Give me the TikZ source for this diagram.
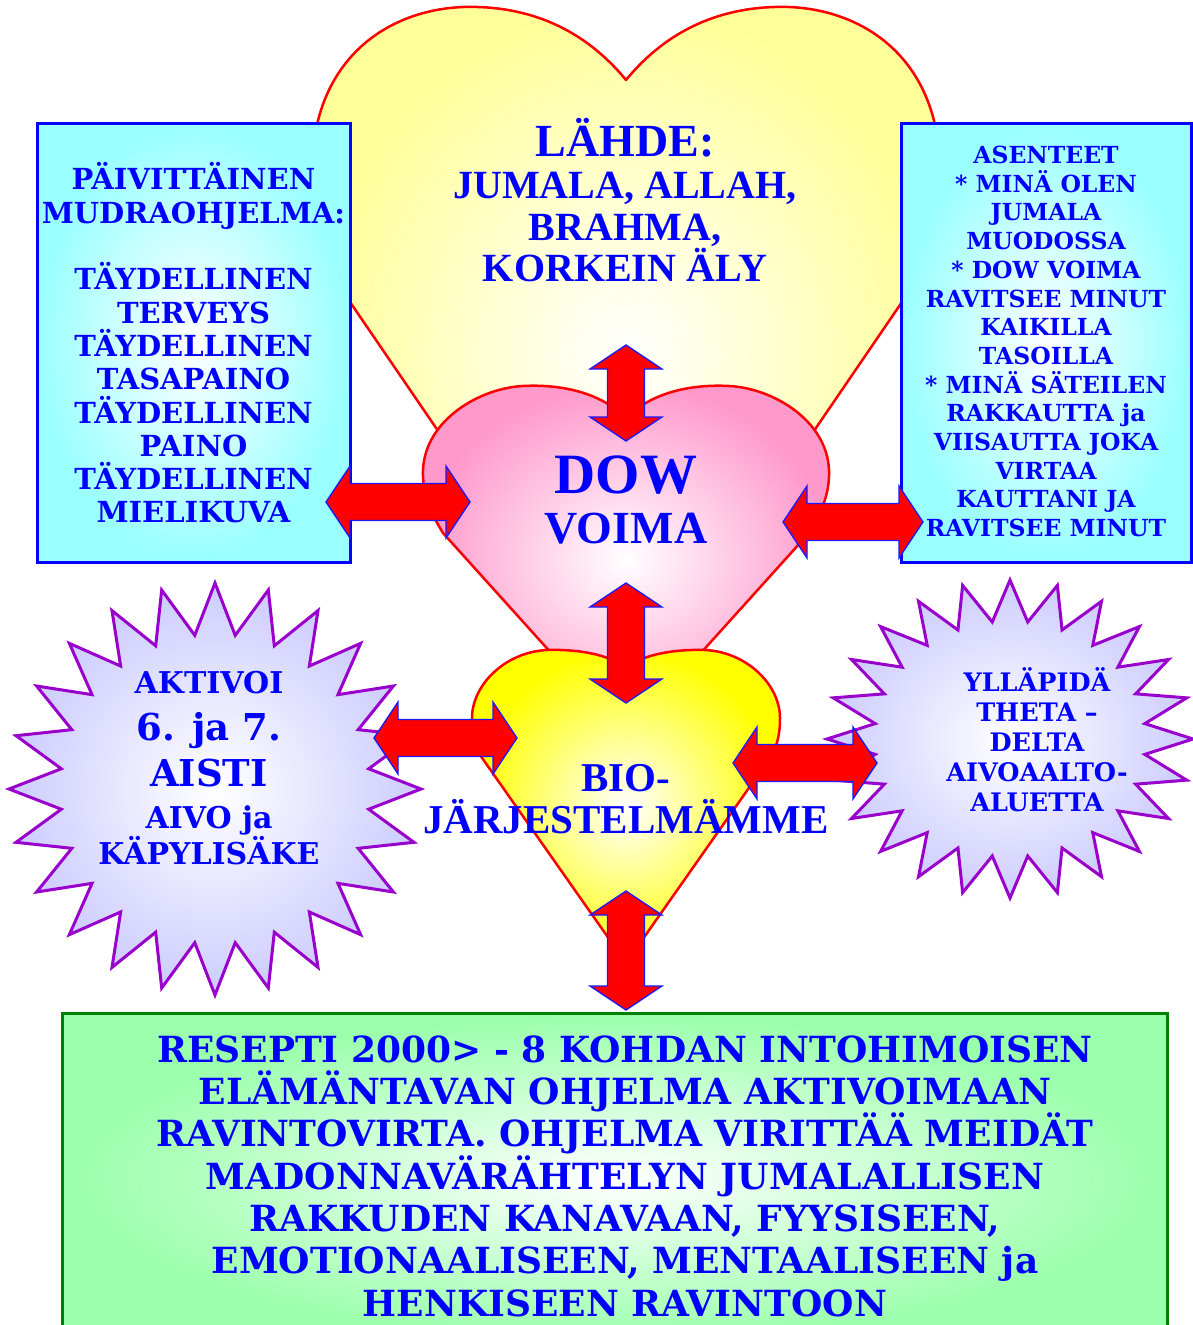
\documentclass[tikz,border=0pt]{standalone}
\usepackage{fontspec}
\setmainfont{Liberation Serif}
\newfontfamily\geofont{DejaVu Serif}
\usetikzlibrary{calc}
\definecolor{TextBlue}{HTML}{0000FF}
\definecolor{HeartRed}{HTML}{FF0000}
\definecolor{ArrowRed}{HTML}{FF0000}
\definecolor{ArrowBlue}{HTML}{1A1AFF}
\definecolor{BoxBlue}{HTML}{0000FF}
\definecolor{BoxCyan}{HTML}{99FFFF}
\definecolor{TopYellow}{HTML}{FFFF99}
\definecolor{DowPink}{HTML}{FF99CC}
\definecolor{BioYellow}{HTML}{FFFF00}
\definecolor{StarLilac}{HTML}{CCCCFF}
\definecolor{StarPurple}{HTML}{9900CC}
\definecolor{ReseptiGreen}{HTML}{99FFAA}
\definecolor{ReseptiLine}{HTML}{008000}
\tikzset{
  heartline/.style={draw=HeartRed,line width=2.5pt,line join=round},
  cyanbox/.style={draw=BoxBlue,line width=3pt,inner color=white,outer color=BoxCyan,inner sep=0pt},
  greenbox/.style={draw=ReseptiLine,line width=3pt,inner color=white,outer color=ReseptiGreen,inner sep=0pt},
  starline/.style={draw=StarPurple,line width=3pt,line join=miter,inner color=white,outer color=StarLilac},
  heartlabel/.style 2 args={text=TextBlue,align=center,inner sep=0pt,font=\bfseries\fontsize{#1pt}{#2pt}\selectfont},
  geolabel/.style 2 args={text=TextBlue,align=center,inner sep=0pt,font=\geofont\bfseries\fontsize{#1pt}{#2pt}\selectfont},
  fatarrow/.style={draw=ArrowBlue,line width=1.3pt,fill=ArrowRed,line join=miter,
    to path={let \p1=(\tikztostart), \p2=(\tikztotarget),
      \n1={atan2(\y2-\y1,\x2-\x1)}, \n2={veclen(\x2-\x1,\y2-\y1)}, \n3={\n2-24pt} in
      ([shift={(\p1)},rotate=\n1]0pt,0pt)
      -- ([shift={(\p1)},rotate=\n1]24pt,36pt)
      -- ([shift={(\p1)},rotate=\n1]24pt,18.5pt)
      -- ([shift={(\p1)},rotate=\n1]\n3,18.5pt)
      -- ([shift={(\p1)},rotate=\n1]\n3,36pt)
      -- ([shift={(\p1)},rotate=\n1]\n2,0pt)
      -- ([shift={(\p1)},rotate=\n1]\n3,-36pt)
      -- ([shift={(\p1)},rotate=\n1]\n3,-18.5pt)
      -- ([shift={(\p1)},rotate=\n1]24pt,-18.5pt)
      -- ([shift={(\p1)},rotate=\n1]24pt,-36pt)
      -- cycle}}
}

\begin{document}
\begin{tikzpicture}[x=1pt,y=-1pt]
  \clip (0,0) rectangle (1193,1325);
  \fill[white] (0,0) rectangle (1193,1325);

  % lahde heart
  \draw[heartline,inner color=white,outer color=TopYellow]
    (626,80) .. controls (585,30) and (530,5) .. (463,7)
    .. controls (390,10) and (322,55) .. (313,150)
    .. controls (308,220) and (330,270) .. (350,302) -- (626,706) -- (902,302)
    .. controls (922,270) and (944,220) .. (939,150)
    .. controls (930,55) and (862,10) .. (789,7)
    .. controls (722,5) and (667,30) .. (626,80) -- cycle;
  \node[heartlabel={46}{46}] (lahde) at (625,138) {LÄHDE:};
  \node[heartlabel={40}{41.5}] (jumala) at (625,227) {JUMALA, ALLAH,\\BRAHMA,\\KORKEIN ÄLY};

  % side boxes
  \node[cyanbox,minimum width=313pt,minimum height=439pt] (mudrabox) at (193.5,342.5) {};
  \node[geolabel={29}{33.3}] (mudra) at (193.5,343) {PÄIVITTÄINEN\\MUDRAOHJELMA:\\[33.3pt]TÄYDELLINEN\\TERVEYS\\TÄYDELLINEN\\TASAPAINO\\TÄYDELLINEN\\PAINO\\TÄYDELLINEN\\MIELIKUVA};
  \node[cyanbox,minimum width=290pt,minimum height=439pt] (asennebox) at (1046,342.5) {};
  \node[geolabel={23.5}{28.7}] (asenne) at (1046,341.5) {ASENTEET\\* MINÄ OLEN\\JUMALA\\MUODOSSA\\* DOW VOIMA\\RAVITSEE MINUT\\KAIKILLA\\TASOILLA\\* MINÄ SÄTEILEN\\RAKKAUTTA ja\\VIISAUTTA JOKA\\VIRTAA\\KAUTTANI JA\\RAVITSEE MINUT};

  % dow heart
  \draw[heartline,inner color=white,outer color=DowPink]
    (626,418) .. controls (600,392) and (560,384) .. (523,386)
    .. controls (480,388) and (425,420) .. (423,470)
    .. controls (422,495) and (432,515) .. (443,533) -- (626,736) -- (809,533)
    .. controls (820,515) and (830,495) .. (829,470)
    .. controls (827,420) and (772,388) .. (729,386)
    .. controls (692,384) and (652,392) .. (626,418) -- cycle;
  \node[heartlabel={57}{57}] (dow) at (626,475) {DOW};
  \node[heartlabel={46}{46}] (voima) at (626,529) {VOIMA};

  % bio heart
  \draw[heartline,inner color=white,outer color=BioYellow]
    (626,668) .. controls (610,655) and (580,649) .. (547,650)
    .. controls (505,652) and (472,685) .. (472,718)
    .. controls (472,735) and (475,745) .. (480,755) -- (626,963) -- (772,755)
    .. controls (777,745) and (780,735) .. (780,718)
    .. controls (780,685) and (747,652) .. (705,650)
    .. controls (672,649) and (642,655) .. (626,668) -- cycle;

  % stars
  \draw[starline] (215,583) \foreach \k in {1,...,47} {
    -- ({215+ifthenelse(mod(\k,2)==0,206,155)*sin(7.5*\k)},{789-ifthenelse(mod(\k,2)==0,206,155)*cos(7.5*\k)})
  } -- cycle;
  \draw[starline] (1010,580) \foreach \k in {1,...,47} {
    -- ({1010+ifthenelse(mod(\k,2)==0,183,136)*sin(7.5*\k)},{739-ifthenelse(mod(\k,2)==0,159,118)*cos(7.5*\k)})
  } -- cycle;
  \node[geolabel={30}{30}] (aktivoi) at (209,683) {AKTIVOI};
  \node[geolabel={37}{46}] (aisti) at (209,750) {6. ja 7.\\AISTI};
  \node[geolabel={30}{36}] (kapy) at (209,835) {AIVO ja\\KÄPYLISÄKE};
  \node[geolabel={25.5}{30}] (theta) at (1037,740) {YLLÄPIDÄ\\THETA –\\DELTA\\AIVOAALTO-\\ALUETTA};

  \node[heartlabel={41}{42}] (bio) at (626,799) {BIO-\\JÄRJESTELMÄMME};

  % resepti box
  \node[greenbox,minimum width=1105pt,minimum height=330pt,anchor=north west] (reseptibox) at (61,1012) {};
  \node[geolabel={36}{42.3}] (resepti) at (625,1176) {RESEPTI 2000> - 8 KOHDAN INTOHIMOISEN\\ELÄMÄNTAVAN OHJELMA AKTIVOIMAAN\\RAVINTOVIRTA. OHJELMA VIRITTÄÄ MEIDÄT\\MADONNAVÄRÄHTELYN JUMALALLISEN\\RAKKUDEN KANAVAAN, FYYSISEEN,\\EMOTIONAALISEEN, MENTAALISEEN ja\\HENKISEEN RAVINTOON};

  % arrows
  \coordinate (lahdeA) at (626,345);
  \coordinate (dowA) at (626,441);
  \coordinate (dowB) at (626,583);
  \coordinate (bioA) at (626,703);
  \coordinate (bioB) at (626,891);
  \coordinate (reseptiA) at (626,1010);
  \coordinate (mudraA) at (326,502);
  \coordinate (dowL) at (470,502);
  \coordinate (dowR) at (783,522);
  \coordinate (asenneA) at (923,522);
  \coordinate (aktivoiA) at (374,738);
  \coordinate (bioL) at (517,738);
  \coordinate (bioR) at (733,763);
  \coordinate (thetaA) at (877,763);
  \draw[fatarrow] (lahdeA) to (dowA);
  \draw[fatarrow] (dowB) to (bioA);
  \draw[fatarrow] (bioB) to (reseptiA);
  \draw[fatarrow] (mudraA) to (dowL);
  \draw[fatarrow] (dowR) to (asenneA);
  \draw[fatarrow] (aktivoiA) to (bioL);
  \draw[fatarrow] (bioR) to (thetaA);
\end{tikzpicture}
\end{document}
